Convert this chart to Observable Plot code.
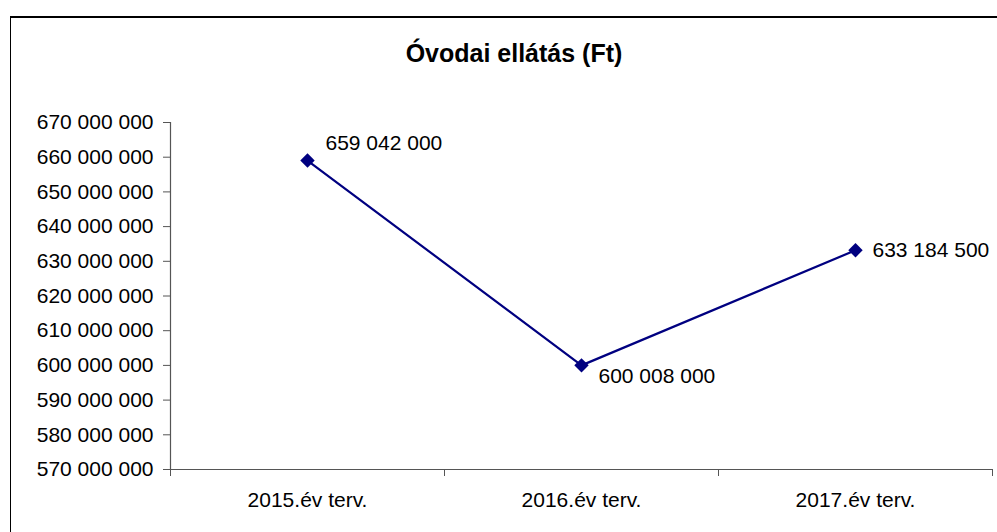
<!DOCTYPE html>
<html>
<head>
<meta charset="utf-8">
<script src="https://cdn.jsdelivr.net/npm/d3@7"></script>
<script src="https://cdn.jsdelivr.net/npm/@observablehq/plot@0.6"></script>
<style>
  html, body { margin: 0; padding: 0; background: #fff; overflow: hidden; }
  #wrap { position: relative; width: 997px; height: 532px; overflow: hidden; }
  #frame { position: absolute; left: 10px; top: 16px; width: 1200px; height: 800px;
           border-top: 2px solid #000; border-left: 1px solid #000; box-sizing: border-box; }
  #title { position: relative; height: 90px; box-sizing: border-box; padding-top: 41px; padding-left: 31px;
           width: 997px; text-align: center; font: bold 25px/25px "Liberation Sans", Arial, sans-serif; color: #000; }
  #chart { position: relative; }
  #chart svg { display: block; }
</style>
</head>
<body>
<div id="wrap">
  <div id="frame"></div>
  <div id="title">Óvodai ellátás (Ft)</div>
  <div id="chart"></div>
</div>
<script>
const categories = ["2015.év terv.", "2016.év terv.", "2017.év terv."];
const values = [659042000, 600008000, 633184500];
const yTicks = [570000000, 580000000, 590000000, 600000000, 610000000, 620000000,
                630000000, 640000000, 650000000, 660000000, 670000000];

const fmt = v => d3.format(",")(v).replace(/,/g, " ");
const data = categories.map((c, i) => ({i, cat: c, value: values[i]}));
const navy = "#000080";
const axisColor = "#555";

const chart = Plot.plot({
  width: 997,
  height: 442,
  marginLeft: 170,
  marginRight: 5,
  marginTop: 32,
  marginBottom: 63,
  style: {fontFamily: "'Liberation Sans', Arial, sans-serif", fontSize: "21px", color: "#000", background: "transparent"},
  x: {type: "linear", domain: [-0.5, 2.5]},
  y: {domain: [570000000, 670000000]},
  marks: [
    Plot.ruleX([-0.5], {stroke: axisColor, strokeWidth: 1.2}),
    Plot.ruleY([570000000], {stroke: axisColor, strokeWidth: 1.2}),
    Plot.axisY({ticks: yTicks, tickSize: 7, tickPadding: 10, tickFormat: fmt, label: null, stroke: axisColor, fill: "#000"}),
    Plot.axisX({ticks: [-0.5, 0.5, 1.5, 2.5], tickSize: 7, tickFormat: () => "", label: null, stroke: axisColor}),
    Plot.axisX({ticks: [0, 1, 2], tickSize: 0, tickPadding: 23, tickFormat: i => categories[i], label: null, fill: "#000"}),
    Plot.line(data, {x: "i", y: "value", stroke: navy, strokeWidth: 2.2}),
    Plot.dot(data, {x: "i", y: "value", symbol: "diamond2", r: 6.5, fill: navy, stroke: "none"}),
    Plot.text(data.filter(d => d.i === 0), {x: "i", y: "value", text: d => fmt(d.value), textAnchor: "start", dx: 18, dy: -17, fill: "#000"}),
    Plot.text(data.filter(d => d.i === 1), {x: "i", y: "value", text: d => fmt(d.value), textAnchor: "start", dx: 17, dy: 11, fill: "#000"}),
    Plot.text(data.filter(d => d.i === 2), {x: "i", y: "value", text: d => fmt(d.value), textAnchor: "start", dx: 17, dy: 0, fill: "#000"})
  ]
});
document.getElementById("chart").appendChild(chart);
</script>
</body>
</html>
